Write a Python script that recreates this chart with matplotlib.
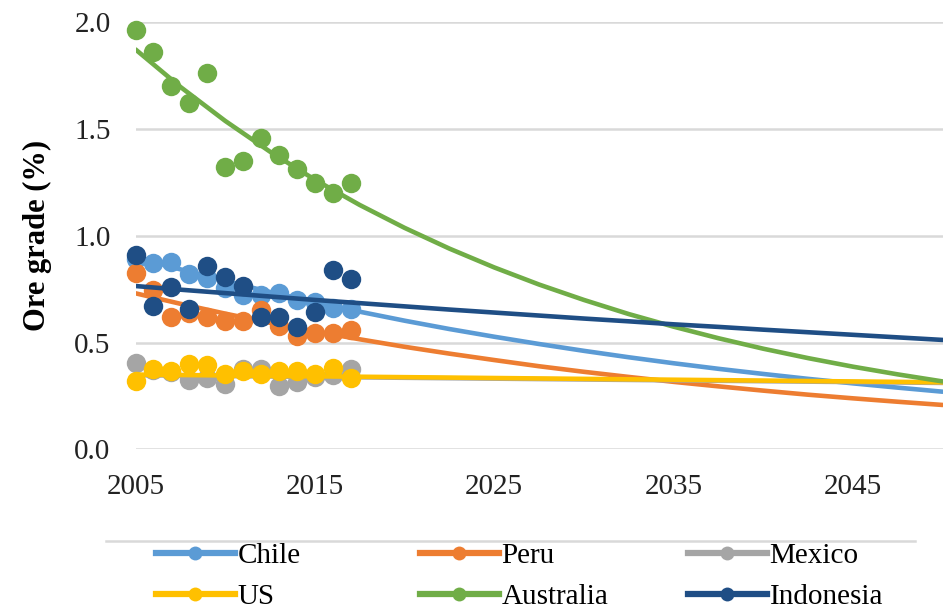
import matplotlib
matplotlib.use("Agg")
import matplotlib.pyplot as plt
from matplotlib.lines import Line2D

plt.rcParams['font.family'] = ['Liberation Serif', 'DejaVu Serif']

# ---- data ----
years = [2005, 2006, 2007, 2008, 2009, 2010, 2011, 2012, 2013, 2014, 2015, 2016, 2017]
chile = [0.89, 0.87, 0.875, 0.82, 0.80, 0.755, 0.72, 0.72, 0.73, 0.70, 0.69, 0.66, 0.655]
peru = [0.825, 0.745, 0.62, 0.64, 0.62, 0.60, 0.60, 0.65, 0.575, 0.53, 0.545, 0.545, 0.56]
mexico = [0.405, 0.37, 0.36, 0.325, 0.335, 0.305, 0.375, 0.375, 0.295, 0.315, 0.34, 0.35, 0.375]
us = [0.32, 0.375, 0.365, 0.40, 0.395, 0.355, 0.365, 0.355, 0.365, 0.365, 0.355, 0.38, 0.335]
australia = [1.963, 1.86, 1.70, 1.62, 1.762, 1.322, 1.349, 1.455, 1.377, 1.31, 1.245, 1.201, 1.245]
indonesia = [0.909, 0.671, 0.758, 0.655, 0.859, 0.808, 0.764, 0.618, 0.618, 0.574, 0.644, 0.839, 0.796]

# trend lines every 2.5 years
trend_years = [2005, 2007.5, 2010, 2012.5, 2015, 2017.5, 2020, 2022.5, 2025, 2027.5,
               2030, 2032.5, 2035, 2037.5, 2040, 2042.5, 2045, 2047.5, 2050]
chile_trend = [0.900, 0.842, 0.787, 0.736, 0.689, 0.644, 0.602, 0.563, 0.527, 0.493,
               0.461, 0.431, 0.403, 0.377, 0.353, 0.330, 0.309, 0.289, 0.270]
peru_trend = [0.730, 0.681, 0.635, 0.592, 0.552, 0.515, 0.480, 0.448, 0.418, 0.389,
              0.363, 0.339, 0.316, 0.295, 0.275, 0.256, 0.239, 0.223, 0.208]
mexico_trend = [0.347, 0.345, 0.343, 0.341, 0.339, 0.337, 0.335, 0.333, 0.331, 0.329,
                0.327, 0.325, 0.323, 0.321, 0.319, 0.317, 0.315, 0.313, 0.311]
us_trend = [0.350, 0.348, 0.346, 0.344, 0.342, 0.340, 0.338, 0.336, 0.334, 0.332,
            0.330, 0.328, 0.326, 0.324, 0.322, 0.320, 0.318, 0.316, 0.314]
australia_trend = [1.870, 1.695, 1.536, 1.392, 1.261, 1.143, 1.036, 0.939, 0.851, 0.771,
                   0.699, 0.633, 0.574, 0.520, 0.471, 0.427, 0.387, 0.351, 0.318]
indonesia_trend = [0.764, 0.747, 0.731, 0.715, 0.699, 0.684, 0.669, 0.654, 0.640, 0.626,
                   0.612, 0.599, 0.585, 0.573, 0.560, 0.548, 0.536, 0.524, 0.512]

names = ["Chile", "Peru", "Mexico", "US", "Australia", "Indonesia"]
colors = ["#5B9BD5", "#ED7D31", "#A5A5A5", "#FFC000", "#70AD47", "#1F4E85"]
points = [chile, peru, mexico, us, australia, indonesia]
trends = [chile_trend, peru_trend, mexico_trend, us_trend, australia_trend, indonesia_trend]

x_ticks = [2005, 2015, 2025, 2035, 2045]
y_ticks = [0.0, 0.5, 1.0, 1.5, 2.0]

fig = plt.figure(figsize=(9.48, 6.14), dpi=100)
ax = fig.add_axes([0.143, 0.268, 0.8513, 0.6967])

for i, (name, c, pts, tr) in enumerate(zip(names, colors, points, trends)):
    ax.plot(years, pts, 'o', color=c, markersize=14, markeredgewidth=0,
            clip_on=False, zorder=3 + i * 0.1)
    ax.plot(trend_years, tr, '-', color=c, lw=3.3, solid_capstyle='round',
            solid_joinstyle='round', zorder=3 + i * 0.1 + 0.05)

ax.set_xlim(2005, 2050)
ax.set_ylim(0, 2.0)
ax.set_xticks(x_ticks)
ax.set_xticklabels([str(v) for v in x_ticks])
ax.set_yticks(y_ticks)
ax.set_yticklabels([f"{v:.1f}" for v in y_ticks])
ax.yaxis.grid(True, color='#d9d9d9', lw=1.8)
ax.set_axisbelow(True)
for s in ax.spines.values():
    s.set_visible(False)
ax.tick_params(axis='both', length=0, labelsize=21, colors='#222222')
ax.tick_params(axis='x', pad=18)
ax.tick_params(axis='y', pad=18)
ax.set_ylabel("Ore grade (%)", fontsize=22, fontweight='bold', labelpad=16)

# separator line above the legend
fig.add_artist(Line2D([106 / 948, 915 / 948], [1 - 541 / 614, 1 - 541 / 614],
                      color='#d9d9d9', lw=1.8, transform=fig.transFigure))

# legend: three columns of two entries
col_x = [150 / 948, 414 / 948, 682 / 948]
order = [(0, 3), (1, 4), (2, 5)]
for cx, (a, b) in zip(col_x, order):
    handles = [Line2D([], [], color=colors[k], lw=4.5, marker='o', markersize=10,
                      markeredgewidth=0) for k in (a, b)]
    fig.legend(handles, [names[a], names[b]], loc='upper left',
               bbox_to_anchor=(cx, 1 - 537 / 614), frameon=False,
               fontsize=21, handlelength=2.7, handletextpad=0.1,
               labelspacing=0.5, borderpad=0.2, borderaxespad=0)

fig.savefig("out.png", dpi=100, facecolor='white')
